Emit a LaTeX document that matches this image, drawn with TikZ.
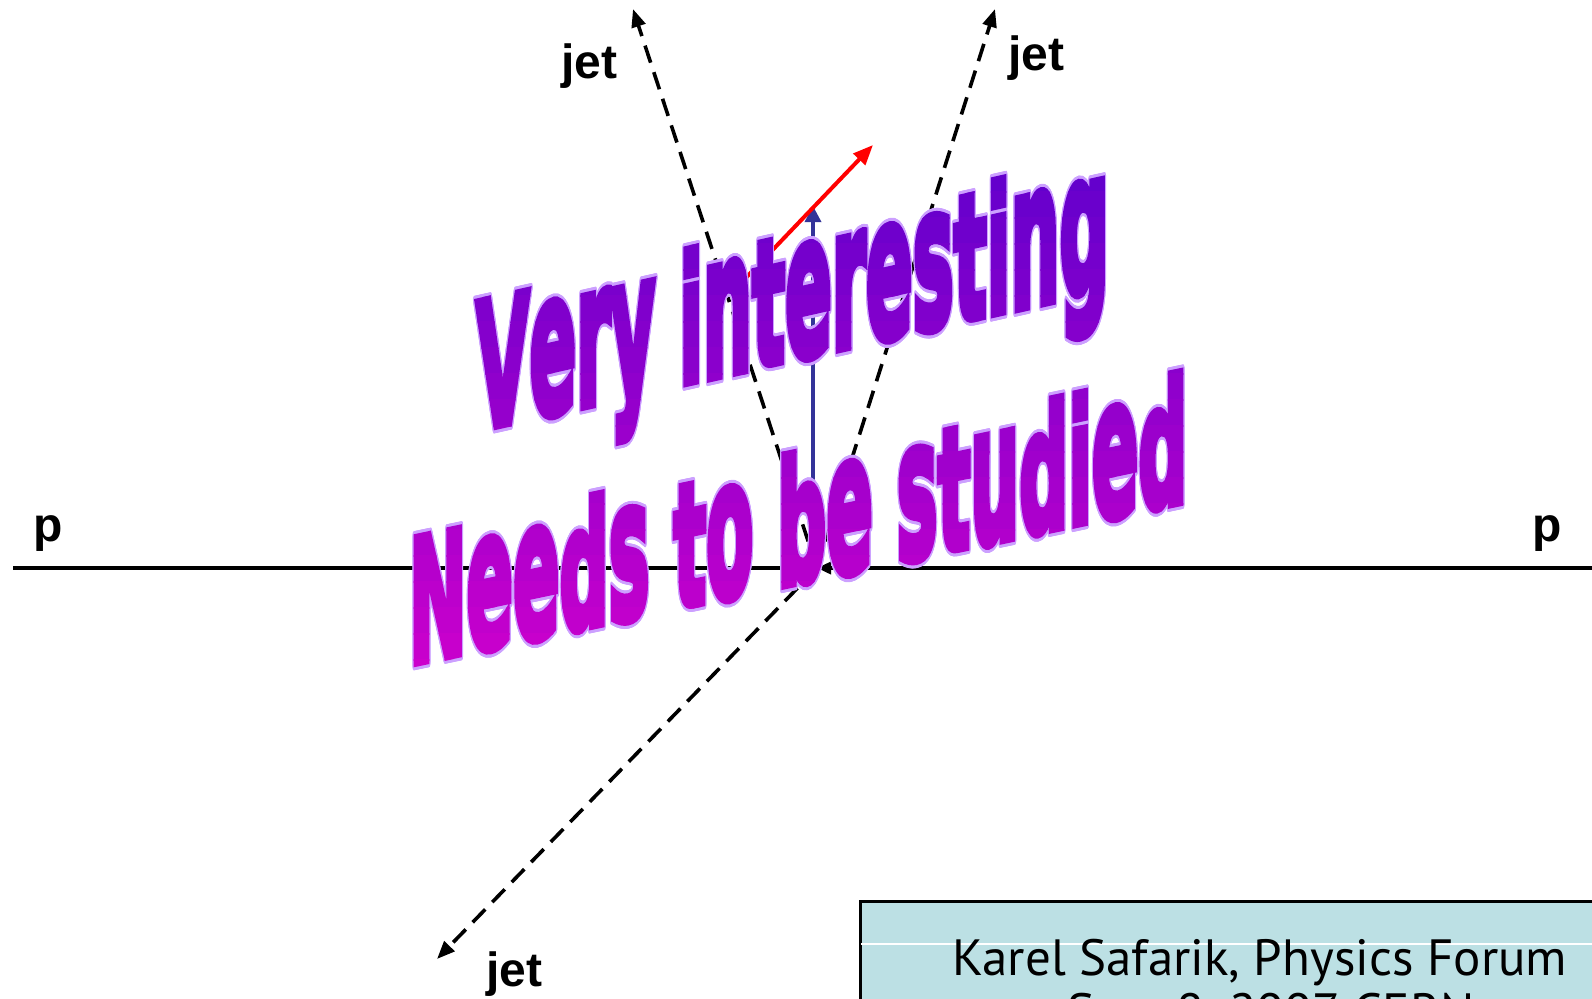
\documentclass[tikz,border=0pt]{standalone}
\usepackage{fontspec}
\usepackage{graphicx}
\setmainfont{Liberation Sans}
\newfontfamily\artfont{DejaVu Sans}[BoldFeatures={FakeBold=5}]
\newfontfamily\boxfont{PT Sans}
\usepackage[copies]{contour}
\contourlength{1.6pt}
\usetikzlibrary{arrows.meta,positioning,calc}
\definecolor{arttop}{RGB}{100,0,204}
\definecolor{artbot}{RGB}{204,0,204}
\definecolor{artedge}{RGB}{204,160,255}
\definecolor{axisblue}{RGB}{51,51,153}
\definecolor{boxfill}{RGB}{188,224,228}
\newcommand\tallglyph[1]{\scalebox{1}[0.88]{#1}}
\newcommand\artlineA{\tallglyph{V}ery \tallglyph{i}n\tallglyph{t}eres\tallglyph{t}\tallglyph{i}ng}
\newcommand\artlineB{\tallglyph{N}ee\tallglyph{d}s \tallglyph{t}o \tallglyph{b}e s\tallglyph{t}u\tallglyph{d}\tallglyph{i}e\tallglyph{d}}

\begin{document}
\begin{tikzpicture}[x=0.5pt, y=-0.5pt,
  beam/.style={line width=2pt},
  jetline/.style={line width=1.8pt, dash pattern=on 9pt off 5pt, -{Triangle[length=9pt, width=7pt]}},
  vec/.style={line width=1.7pt, -{Triangle[length=8pt, width=8pt]}},
  lbl/.style={font=\bfseries\fontsize{24}{28}\selectfont, inner sep=0, anchor=base west},
  creditbox/.style={draw, line width=1.5pt, fill=boxfill, minimum width=420pt, minimum height=100pt, inner sep=0, anchor=north west},
  credit/.style={font=\boxfont\fontsize{25.5}{30}\selectfont, inner sep=0, anchor=base},
  art/.style={font=\artfont\bfseries\fontsize{100}{100}\selectfont, inner sep=0, anchor=base west, transform shape},
  wordA/.style={shift={(476,430)}, yslant=0.225, xscale=0.345, yscale=0.99},
  wordB/.style={shift={(409,664)}, yslant=0.21, xscale=0.343, yscale=0.97}
]
\useasboundingbox (0,0) rectangle (1592,998);
% 顶点与各端点
\coordinate (vtx) at (817,568);
\coordinate (beamL) at (13,568);
\coordinate (beamR) at (1592,568);
\coordinate (tipUL) at (633,9);
\coordinate (tipUR) at (995,9);
\coordinate (tipLL) at (437,959);
\coordinate (blueBase) at (813,568);
\coordinate (blueTip) at (813,206);
\coordinate (redBase) at (740,284);
\coordinate (redTip) at (873,145);
% 束流与标签
\draw[beam] (beamL) -- (vtx);
\draw[beam, -{Triangle[length=7pt, width=6pt]}] (beamR) -- (vtx);
\node[lbl] (pL) at (33,541) {p};
\node[lbl] (pR) at (1532,541) {p};
% 三个喷注
\draw[jetline] (vtx) -- (tipUL);
\draw[jetline] (vtx) -- (tipUR);
\draw[jetline] (vtx) -- (tipLL);
\node[lbl] (jetUL) at (561,78) {jet};
\node[lbl] (jetUR) at (1008,70) {jet};
\node[lbl] (jetLL) at (486,986) {jet};
% 两个矢量
\draw[vec, axisblue] (blueBase) -- (blueTip);
\draw[vec, red, line width=2pt, -{Triangle[length=10pt, width=8pt]}] (redBase) -- (redTip);
% 右下角署名框
\node[creditbox] (panel) at (859,900) {};
\draw[white, line width=0.6pt] (861,944) -- (1592,944);
\node[credit] (talk) at (1260,975) {Karel Safarik, Physics Forum};
\node[credit] (date) at (1271,1029) {Sep. 8, 2007 CERN};
% 艺术字:先画淡紫描边,再按水平条带填渐变色
\begin{scope}[wordA]
  \node[art, text=artedge] (line1) at (0,0) {\contour{artedge}{\artlineA}};
\end{scope}
\begin{scope}[wordB]
  \node[art, text=artedge] (line2) at (0,0) {\contour{artedge}{\artlineB}};
\end{scope}
\foreach \k in {0,...,19} {
  \pgfmathsetmacro\pct{100*\k/19}
  \colorlet{bandcol}{artbot!\pct!arttop}
  \begin{scope}
    \clip (0,{165+26*\k}) rectangle (1592,{192+26*\k});
    \begin{scope}[wordA]
      \node[art, text=bandcol] at (0,0) {\artlineA};
    \end{scope}
    \begin{scope}[wordB]
      \node[art, text=bandcol] at (0,0) {\artlineB};
    \end{scope}
  \end{scope}
}
\end{tikzpicture}
\end{document}
